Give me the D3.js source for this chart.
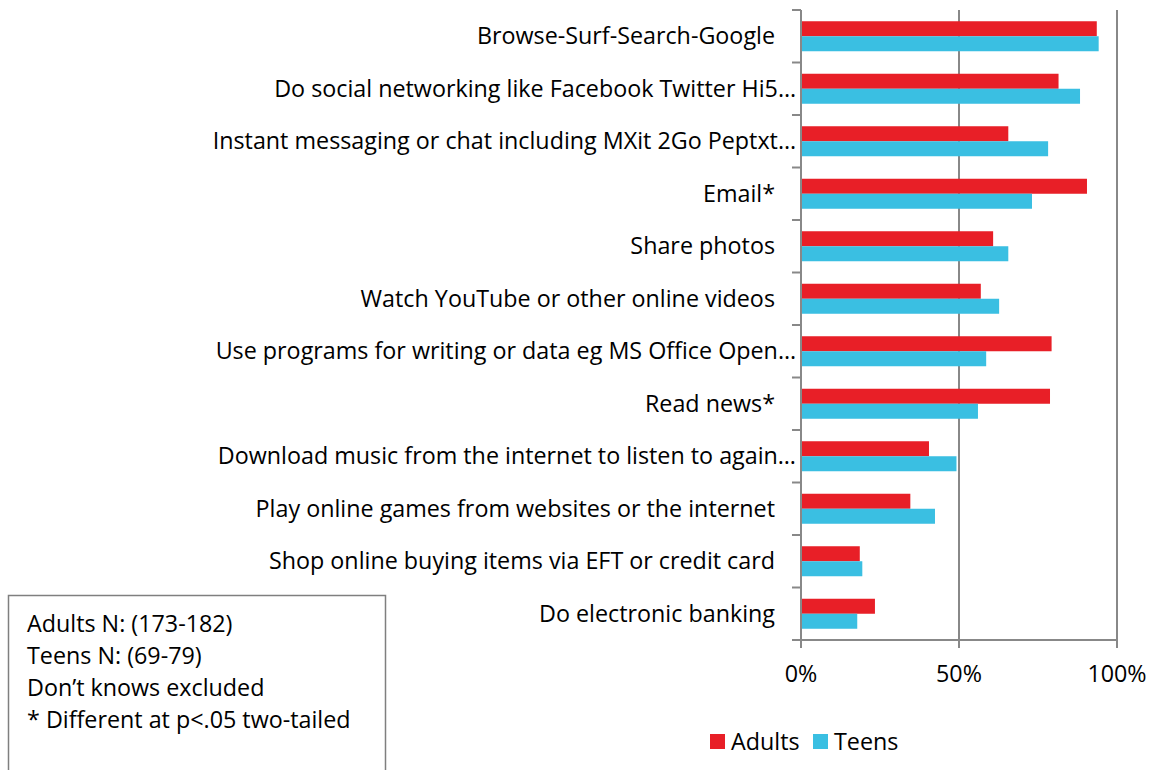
<!DOCTYPE html>
<html>
<head>
<meta charset="utf-8">
<script src="https://cdn.jsdelivr.net/npm/d3@7"></script>
<style>
  body { margin: 0; background: #fff; }
  text { font-family: "Open Sans", sans-serif; fill: #000; }
</style>
</head>
<body>
<div id="chart"></div>
<script>
// data
const categories = [
  "Browse-Surf-Search-Google",
  "Do social networking like Facebook Twitter Hi5…",
  "Instant messaging or chat including MXit 2Go Peptxt…",
  "Email*",
  "Share photos",
  "Watch YouTube or other online videos",
  "Use programs for writing or data eg MS Office Open…",
  "Read news*",
  "Download music from the internet to listen to again…",
  "Play online games from websites or the internet",
  "Shop online buying items via EFT or credit card",
  "Do electronic banking"
];
const adults = [93.6, 81.5, 65.6, 90.5, 60.8, 56.9, 79.3, 78.8, 40.5, 34.6, 18.6, 23.4];
const teens  = [94.2, 88.3, 78.2, 73.1, 65.6, 62.7, 58.6, 56.0, 49.2, 42.4, 19.4, 17.8];
const seriesNames = ["Adults", "Teens"];
const xTicks = [0, 50, 100];
const noteLines = [
  "Adults N: (173-182)",
  "Teens N: (69-79)",
  "Don\u2019t knows excluded",
  "* Different at p<.05 two-tailed"
];

const colors = { Adults: "#E81F27", Teens: "#3ABFE2" };
const gridColor = "#888888";
const fontSize = "23.3px";

const W = 1157, H = 770;
const margin = { top: 10, right: 40, bottom: 130, left: 801 };

const svg = d3.select("#chart").append("svg")
  .attr("width", W)
  .attr("height", H);

const x = d3.scaleLinear().domain([0, 100]).range([margin.left, W - margin.right]);
const y = d3.scaleBand().domain(categories).range([margin.top, H - margin.bottom]).padding(0);
const ySub = d3.scaleBand().domain(seriesNames).range([0, y.bandwidth()])
  .paddingInner(0).paddingOuter(0.75);

const rows = categories.map((c, i) => ({ cat: c, Adults: adults[i], Teens: teens[i] }));

// vertical gridlines (not at 0)
svg.append("g")
  .selectAll("line")
  .data(xTicks.filter(d => d > 0))
  .enter().append("line")
  .attr("x1", d => x(d)).attr("x2", d => x(d))
  .attr("y1", y.range()[0]).attr("y2", y.range()[1])
  .attr("stroke", gridColor).attr("stroke-width", 2);

// bars
const groups = svg.append("g").selectAll("g")
  .data(rows)
  .enter().append("g")
  .attr("transform", d => "translate(0," + y(d.cat) + ")");

groups.selectAll("rect")
  .data(d => seriesNames.map(s => ({ s: s, v: d[s] })))
  .enter().append("rect")
  .attr("x", x(0))
  .attr("y", d => ySub(d.s))
  .attr("width", d => x(d.v) - x(0))
  .attr("height", ySub.bandwidth())
  .attr("fill", d => colors[d.s]);

// y axis line + tick marks at band edges
const yEdges = categories.map(c => y(c)).concat([y.range()[1]]);
svg.append("line")
  .attr("x1", x(0)).attr("x2", x(0))
  .attr("y1", y.range()[0]).attr("y2", y.range()[1])
  .attr("stroke", gridColor).attr("stroke-width", 2);
svg.append("g").selectAll("line")
  .data(yEdges)
  .enter().append("line")
  .attr("x1", x(0) - 9).attr("x2", x(0))
  .attr("y1", d => d).attr("y2", d => d)
  .attr("stroke", gridColor).attr("stroke-width", 2);

// x axis
const xAxisY = y.range()[1];
svg.append("line")
  .attr("x1", x(0) - 9).attr("x2", x(100))
  .attr("y1", xAxisY).attr("y2", xAxisY)
  .attr("stroke", gridColor).attr("stroke-width", 2);
svg.append("g").selectAll("line")
  .data(xTicks)
  .enter().append("line")
  .attr("x1", d => x(d)).attr("x2", d => x(d))
  .attr("y1", xAxisY).attr("y2", xAxisY + 8)
  .attr("stroke", gridColor).attr("stroke-width", 2);
svg.append("g").selectAll("text")
  .data(xTicks)
  .enter().append("text")
  .attr("x", d => x(d))
  .attr("y", xAxisY + 42)
  .attr("text-anchor", "middle")
  .style("font-size", fontSize)
  .text(d => d + "%");

// category labels
svg.append("g").selectAll("text")
  .data(categories)
  .enter().append("text")
  .attr("x", d => d.endsWith("…") ? x(0) - 5 : x(0) - 26)
  .attr("y", d => y(d) + y.bandwidth() / 2)
  .attr("dy", "0.35em")
  .attr("text-anchor", "end")
  .style("font-size", fontSize)
  .text(d => d);

// legend
const legend = svg.append("g").attr("transform", "translate(710,734)");
const lx = [0, 103];
seriesNames.forEach((s, i) => {
  legend.append("rect")
    .attr("x", lx[i]).attr("y", 0)
    .attr("width", 15).attr("height", 15)
    .attr("fill", colors[s]);
  legend.append("text")
    .attr("x", lx[i] + 21).attr("y", 8)
    .attr("dy", "0.35em")
    .style("font-size", fontSize)
    .text(s);
});

// note box
const note = svg.append("g");
note.append("rect")
  .attr("x", 8.5).attr("y", 595.5)
  .attr("width", 377).attr("height", 190)
  .attr("fill", "none")
  .attr("stroke", "#7f7f7f").attr("stroke-width", 1.5);
note.selectAll("text")
  .data(noteLines)
  .enter().append("text")
  .attr("x", 27)
  .attr("y", (d, i) => 632 + i * 32)
  .style("font-size", fontSize)
  .text(d => d);
</script>
</body>
</html>
